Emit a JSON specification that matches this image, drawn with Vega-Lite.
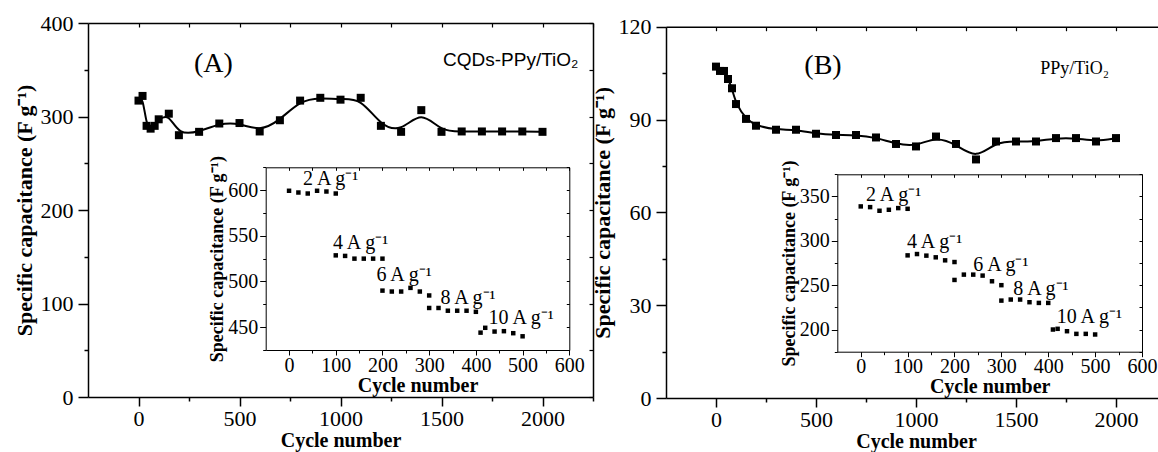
{
  "$schema": "https://vega.github.io/schema/vega-lite/v6.json",
  "width": 1158,
  "height": 452,
  "padding": 0,
  "autosize": {"type": "none"},
  "background": "white",
  "config": {
    "view": {"stroke": null},
    "axis": {
      "grid": false,
      "format": "d",
      "domainColor": "black",
      "tickColor": "black",
      "labelColor": "black",
      "titleColor": "black",
      "labelFont": "Liberation Serif",
      "titleFont": "Liberation Serif",
      "titleFontWeight": "bold",
      "labelOverlap": false,
      "labelFlush": false,
      "labelBound": false
    }
  },
  "datasets": {
    "mainA": [
      {"cycle": 0, "cap": 317}, {"cycle": 20, "cap": 322}, {"cycle": 40, "cap": 290}, {"cycle": 60, "cap": 287},
      {"cycle": 80, "cap": 290}, {"cycle": 100, "cap": 297}, {"cycle": 150, "cap": 303}, {"cycle": 200, "cap": 280},
      {"cycle": 300, "cap": 283.6}, {"cycle": 400, "cap": 292.5}, {"cycle": 500, "cap": 293}, {"cycle": 600, "cap": 284},
      {"cycle": 700, "cap": 296}, {"cycle": 800, "cap": 317}, {"cycle": 900, "cap": 320}, {"cycle": 1000, "cap": 318},
      {"cycle": 1100, "cap": 320}, {"cycle": 1200, "cap": 290}, {"cycle": 1300, "cap": 283.6}, {"cycle": 1400, "cap": 306.8},
      {"cycle": 1500, "cap": 283.6}, {"cycle": 1600, "cap": 284}, {"cycle": 1700, "cap": 284}, {"cycle": 1800, "cap": 284},
      {"cycle": 1900, "cap": 284}, {"cycle": 2000, "cap": 283.6}
    ],
    "mainB": [
      {"cycle": 0, "cap": 107.1}, {"cycle": 20, "cap": 105.7}, {"cycle": 40, "cap": 105.7}, {"cycle": 60, "cap": 103.1},
      {"cycle": 80, "cap": 100.1}, {"cycle": 100, "cap": 95}, {"cycle": 150, "cap": 90.2}, {"cycle": 200, "cap": 88},
      {"cycle": 300, "cap": 86.7}, {"cycle": 400, "cap": 86.7}, {"cycle": 500, "cap": 85.4}, {"cycle": 600, "cap": 85},
      {"cycle": 700, "cap": 85}, {"cycle": 800, "cap": 84.2}, {"cycle": 900, "cap": 82.1}, {"cycle": 1000, "cap": 81.3},
      {"cycle": 1100, "cap": 84.5}, {"cycle": 1200, "cap": 82.1}, {"cycle": 1300, "cap": 77.1}, {"cycle": 1400, "cap": 82.9},
      {"cycle": 1500, "cap": 82.9}, {"cycle": 1600, "cap": 82.9}, {"cycle": 1700, "cap": 84}, {"cycle": 1800, "cap": 84},
      {"cycle": 1900, "cap": 82.9}, {"cycle": 2000, "cap": 84}
    ],
    "insetA": [
      {"cycle": 0, "cap": 599.3}, {"cycle": 20, "cap": 597.4}, {"cycle": 40, "cap": 596.3}, {"cycle": 60, "cap": 599.3},
      {"cycle": 80, "cap": 598.5}, {"cycle": 100, "cap": 596.3},
      {"cycle": 100, "cap": 528.6}, {"cycle": 120, "cap": 528}, {"cycle": 140, "cap": 525}, {"cycle": 160, "cap": 525},
      {"cycle": 180, "cap": 525}, {"cycle": 200, "cap": 525},
      {"cycle": 200, "cap": 490}, {"cycle": 220, "cap": 489}, {"cycle": 240, "cap": 489}, {"cycle": 260, "cap": 493},
      {"cycle": 280, "cap": 489}, {"cycle": 300, "cap": 484.7},
      {"cycle": 300, "cap": 471}, {"cycle": 320, "cap": 471}, {"cycle": 340, "cap": 468}, {"cycle": 360, "cap": 468},
      {"cycle": 380, "cap": 468}, {"cycle": 400, "cap": 466.8},
      {"cycle": 410, "cap": 444}, {"cycle": 420, "cap": 449.3}, {"cycle": 440, "cap": 445.2}, {"cycle": 460, "cap": 445.6},
      {"cycle": 480, "cap": 443.4}, {"cycle": 500, "cap": 440}
    ],
    "insetB": [
      {"cycle": 0, "cap": 338.8}, {"cycle": 20, "cap": 338}, {"cycle": 40, "cap": 333.9}, {"cycle": 60, "cap": 335},
      {"cycle": 80, "cap": 336.9}, {"cycle": 100, "cap": 336.1},
      {"cycle": 100, "cap": 283.6}, {"cycle": 120, "cap": 285.1}, {"cycle": 140, "cap": 283.3}, {"cycle": 160, "cap": 281.4},
      {"cycle": 180, "cap": 278}, {"cycle": 200, "cap": 276.1},
      {"cycle": 200, "cap": 255.9}, {"cycle": 220, "cap": 261.9}, {"cycle": 240, "cap": 261.9}, {"cycle": 260, "cap": 260.8},
      {"cycle": 280, "cap": 254.4}, {"cycle": 300, "cap": 250},
      {"cycle": 300, "cap": 232.6}, {"cycle": 320, "cap": 233.8}, {"cycle": 340, "cap": 233.8}, {"cycle": 360, "cap": 230.8},
      {"cycle": 380, "cap": 230}, {"cycle": 400, "cap": 230},
      {"cycle": 410, "cap": 200}, {"cycle": 420, "cap": 200.8}, {"cycle": 440, "cap": 198.1}, {"cycle": 460, "cap": 195.1},
      {"cycle": 480, "cap": 195.1}, {"cycle": 500, "cap": 194.4}
    ],
    "labelsA": [
      {"cycle": 30, "cap": 605.5, "label": "2 A g⁻¹"},
      {"cycle": 94, "cap": 536, "label": "4 A g⁻¹"},
      {"cycle": 187, "cap": 501, "label": "6 A g⁻¹"},
      {"cycle": 324, "cap": 475.6, "label": "8 A g⁻¹"},
      {"cycle": 427, "cap": 453.6, "label": "10 A g⁻¹"}
    ],
    "labelsB": [
      {"cycle": 11, "cap": 344.4, "label": "2 A g⁻¹"},
      {"cycle": 98.6, "cap": 291.9, "label": "4 A g⁻¹"},
      {"cycle": 240, "cap": 265.6, "label": "6 A g⁻¹"},
      {"cycle": 325.5, "cap": 239.4, "label": "8 A g⁻¹"},
      {"cycle": 418, "cap": 206.8, "label": "10 A g⁻¹"}
    ]
  },
  "resolve": {
    "scale": {"x": "independent", "y": "independent"},
    "axis": {"x": "independent", "y": "independent"}
  },
  "layer": [
    {
      "encoding": {
        "x": {"field": "cycle", "type": "quantitative",
          "scale": {"domain": [-250, 2250], "range": [88, 593], "nice": false, "zero": false},
          "axis": {"orient": "bottom", "offset": -55, "values": [0, 250, 500, 750, 1000, 1250, 1500, 1750, 2000, 2250],
            "labelExpr": "datum.value % 500 === 0 && datum.value <= 2000 ? datum.label : ''",
            "tickSize": {"condition": {"test": "datum.value % 500 === 0", "value": 9}, "value": 4},
            "labelFontSize": 22, "labelPadding": 2, "title": "Cycle number", "titleFontSize": 20, "titlePadding": 1,
            "domainWidth": 1.5, "tickWidth": 1.5}},
        "y": {"field": "cap", "type": "quantitative",
          "scale": {"domain": [0, 400], "range": [397, 23], "nice": false, "zero": false},
          "axis": {"orient": "left", "offset": -88, "values": [0, 50, 100, 150, 200, 250, 300, 350, 400],
            "labelExpr": "datum.value % 100 === 0 ? datum.label : ''",
            "tickSize": {"condition": {"test": "datum.value % 100 === 0", "value": 10}, "value": 4},
            "labelFontSize": 22, "labelPadding": 5, "title": "Specific capacitance (F g⁻¹)", "titleFontSize": 22, "titlePadding": 4,
            "domainWidth": 1.5, "tickWidth": 1.5}}
      },
      "layer": [
        {"data": {"name": "mainA"}, "mark": {"type": "line", "interpolate": "basis", "color": "black", "strokeWidth": 2}},
        {"data": {"name": "mainA"}, "mark": {"type": "point", "shape": "square", "filled": true, "color": "black", "opacity": 1, "size": 64}},
        {"data": {"values": [{"cycle": 371, "cap": 356, "label": "(A)"}]},
          "mark": {"type": "text", "font": "Liberation Serif", "fontSize": 28, "align": "center", "baseline": "middle", "color": "black"},
          "encoding": {"text": {"field": "label"}}},
        {"data": {"values": [{"cycle": 2178, "cap": 360, "label": "CQDs-PPy/TiO₂"}]},
          "mark": {"type": "text", "font": "Liberation Sans", "fontSize": 19, "align": "right", "baseline": "middle", "color": "black"},
          "encoding": {"text": {"field": "label"}}}
      ]
    },
    {
      "data": {"name": "mainA"},
      "mark": {"type": "point", "opacity": 0},
      "encoding": {
        "x": {"field": "cycle", "type": "quantitative",
          "scale": {"domain": [-250, 2250], "range": [88, 593], "nice": false, "zero": false},
          "axis": {"orient": "top", "offset": -23, "values": [0, 250, 500, 750, 1000, 1250, 1500, 1750, 2000, 2250],
            "labels": false, "tickSize": -4, "title": null, "domainWidth": 1.5, "tickWidth": 1.2}},
        "y": {"field": "cap", "type": "quantitative",
          "scale": {"domain": [0, 400], "range": [397, 23], "nice": false, "zero": false},
          "axis": {"orient": "right", "offset": -565, "values": [0, 50, 100, 150, 200, 250, 300, 350, 400],
            "labels": false, "tickSize": -4, "title": null, "domainWidth": 1.5, "tickWidth": 1.2}}
      }
    },
    {
      "encoding": {
        "x": {"field": "cycle", "type": "quantitative",
          "scale": {"domain": [-50, 600], "range": [265.7, 569.3], "nice": false, "zero": false},
          "axis": {"orient": "bottom", "offset": -102, "values": [0, 50, 100, 150, 200, 250, 300, 350, 400, 450, 500, 550, 600],
            "labelExpr": "datum.value % 100 === 0 ? datum.label : ''",
            "tickSize": {"condition": {"test": "datum.value % 100 === 0", "value": 5}, "value": 3},
            "labelFontSize": 20, "labelPadding": 0, "title": "Cycle number", "titleFontSize": 20, "titlePadding": 0,
            "domainWidth": 1, "tickWidth": 1}},
        "y": {"field": "cap", "type": "quantitative",
          "scale": {"domain": [425, 625], "range": [350, 167.3], "nice": false, "zero": false},
          "axis": {"orient": "left", "offset": -265.7, "values": [425, 450, 475, 500, 525, 550, 575, 600, 625],
            "labelExpr": "datum.value % 50 === 0 ? datum.label : ''",
            "tickSize": {"condition": {"test": "datum.value % 50 === 0", "value": 6}, "value": 3},
            "labelFontSize": 20, "labelPadding": 2, "title": "Specific capacitance (F g⁻¹)", "titleFontSize": 18, "titlePadding": 1,
            "domainWidth": 1, "tickWidth": 1}}
      },
      "layer": [
        {"data": {"name": "insetA"}, "mark": {"type": "point", "shape": "square", "filled": true, "color": "black", "opacity": 1, "size": 20}},
        {"data": {"name": "labelsA"},
          "mark": {"type": "text", "font": "Liberation Serif", "fontSize": 20, "align": "left", "baseline": "alphabetic", "color": "black"},
          "encoding": {"text": {"field": "label"}}}
      ]
    },
    {
      "data": {"name": "insetA"},
      "mark": {"type": "point", "opacity": 0},
      "encoding": {
        "x": {"field": "cycle", "type": "quantitative",
          "scale": {"domain": [-50, 600], "range": [265.7, 569.3], "nice": false, "zero": false},
          "axis": {"orient": "top", "offset": -167.3, "values": [0, 50, 100, 150, 200, 250, 300, 350, 400, 450, 500, 550, 600],
            "labels": false, "tickSize": -3, "title": null, "domainWidth": 1, "tickWidth": 1}},
        "y": {"field": "cap", "type": "quantitative",
          "scale": {"domain": [425, 625], "range": [350, 167.3], "nice": false, "zero": false},
          "axis": {"orient": "right", "offset": -588.7, "values": [425, 450, 475, 500, 525, 550, 575, 600, 625],
            "labels": false, "tickSize": -3, "title": null, "domainWidth": 1, "tickWidth": 1}}
      }
    },
    {
      "encoding": {
        "x": {"field": "cycle", "type": "quantitative",
          "scale": {"domain": [-250, 2250], "range": [666, 1166], "nice": false, "zero": false},
          "axis": {"orient": "bottom", "offset": -54, "values": [0, 250, 500, 750, 1000, 1250, 1500, 1750, 2000, 2250],
            "labelExpr": "datum.value % 500 === 0 && datum.value <= 2000 ? datum.label : ''",
            "tickSize": {"condition": {"test": "datum.value % 500 === 0", "value": 9}, "value": 4},
            "labelFontSize": 22, "labelPadding": 2, "title": "Cycle number", "titleFontSize": 20, "titlePadding": 1,
            "domainWidth": 1.5, "tickWidth": 1.5}},
        "y": {"field": "cap", "type": "quantitative",
          "scale": {"domain": [0, 120], "range": [398, 26.7], "nice": false, "zero": false},
          "axis": {"orient": "left", "offset": -666, "values": [0, 15, 30, 45, 60, 75, 90, 105, 120],
            "labelExpr": "datum.value % 30 === 0 ? datum.label : ''",
            "tickSize": {"condition": {"test": "datum.value % 30 === 0", "value": 10}, "value": 4},
            "labelFontSize": 22, "labelPadding": 5, "title": "Specific capacitance (F g⁻¹)", "titleFontSize": 22, "titlePadding": 4,
            "domainWidth": 1.5, "tickWidth": 1.5}}
      },
      "layer": [
        {"data": {"name": "mainB"}, "mark": {"type": "line", "interpolate": "basis", "color": "black", "strokeWidth": 2}},
        {"data": {"name": "mainB"}, "mark": {"type": "point", "shape": "square", "filled": true, "color": "black", "opacity": 1, "size": 64}},
        {"data": {"values": [{"cycle": 535, "cap": 107.3, "label": "(B)"}]},
          "mark": {"type": "text", "font": "Liberation Serif", "fontSize": 28, "align": "center", "baseline": "middle", "color": "black"},
          "encoding": {"text": {"field": "label"}}},
        {"data": {"values": [{"cycle": 1965, "cap": 106.3, "label": "PPy/TiO₂"}]},
          "mark": {"type": "text", "font": "Liberation Serif", "fontSize": 18, "align": "right", "baseline": "middle", "color": "black"},
          "encoding": {"text": {"field": "label"}}}
      ]
    },
    {
      "data": {"name": "mainB"},
      "mark": {"type": "point", "opacity": 0},
      "encoding": {
        "x": {"field": "cycle", "type": "quantitative",
          "scale": {"domain": [-250, 2250], "range": [666, 1166], "nice": false, "zero": false},
          "axis": {"orient": "top", "offset": -26.7, "values": [0, 250, 500, 750, 1000, 1250, 1500, 1750, 2000, 2250],
            "labels": false, "tickSize": -4, "title": null, "domainWidth": 1.5, "tickWidth": 1.2}}
      }
    },
    {
      "encoding": {
        "x": {"field": "cycle", "type": "quantitative",
          "scale": {"domain": [-50, 600], "range": [837.3, 1142], "nice": false, "zero": false},
          "axis": {"orient": "bottom", "offset": -100.3, "values": [0, 50, 100, 150, 200, 250, 300, 350, 400, 450, 500, 550, 600],
            "labelExpr": "datum.value % 100 === 0 ? datum.label : ''",
            "tickSize": {"condition": {"test": "datum.value % 100 === 0", "value": 5}, "value": 3},
            "labelFontSize": 20, "labelPadding": 0, "title": "Cycle number", "titleFontSize": 20, "titlePadding": 0,
            "domainWidth": 1, "tickWidth": 1}},
        "y": {"field": "cap", "type": "quantitative",
          "scale": {"domain": [175, 375], "range": [351.7, 174.3], "nice": false, "zero": false},
          "axis": {"orient": "left", "offset": -837.3, "values": [175, 200, 225, 250, 275, 300, 325, 350, 375],
            "labelExpr": "datum.value % 50 === 0 ? datum.label : ''",
            "tickSize": {"condition": {"test": "datum.value % 50 === 0", "value": 6}, "value": 3},
            "labelFontSize": 20, "labelPadding": 2, "title": "Specific capacitance (F g⁻¹)", "titleFontSize": 18, "titlePadding": 1,
            "domainWidth": 1, "tickWidth": 1}}
      },
      "layer": [
        {"data": {"name": "insetB"}, "mark": {"type": "point", "shape": "square", "filled": true, "color": "black", "opacity": 1, "size": 20}},
        {"data": {"name": "labelsB"},
          "mark": {"type": "text", "font": "Liberation Serif", "fontSize": 20, "align": "left", "baseline": "alphabetic", "color": "black"},
          "encoding": {"text": {"field": "label"}}}
      ]
    },
    {
      "data": {"name": "insetB"},
      "mark": {"type": "point", "opacity": 0},
      "encoding": {
        "x": {"field": "cycle", "type": "quantitative",
          "scale": {"domain": [-50, 600], "range": [837.3, 1142], "nice": false, "zero": false},
          "axis": {"orient": "top", "offset": -174.3, "values": [0, 50, 100, 150, 200, 250, 300, 350, 400, 450, 500, 550, 600],
            "labels": false, "tickSize": -3, "title": null, "domainWidth": 1, "tickWidth": 1}},
        "y": {"field": "cap", "type": "quantitative",
          "scale": {"domain": [175, 375], "range": [351.7, 174.3], "nice": false, "zero": false},
          "axis": {"orient": "right", "offset": -16, "values": [175, 200, 225, 250, 275, 300, 325, 350, 375],
            "labels": false, "tickSize": -3, "title": null, "domainWidth": 1, "tickWidth": 1}}
      }
    }
  ]
}
